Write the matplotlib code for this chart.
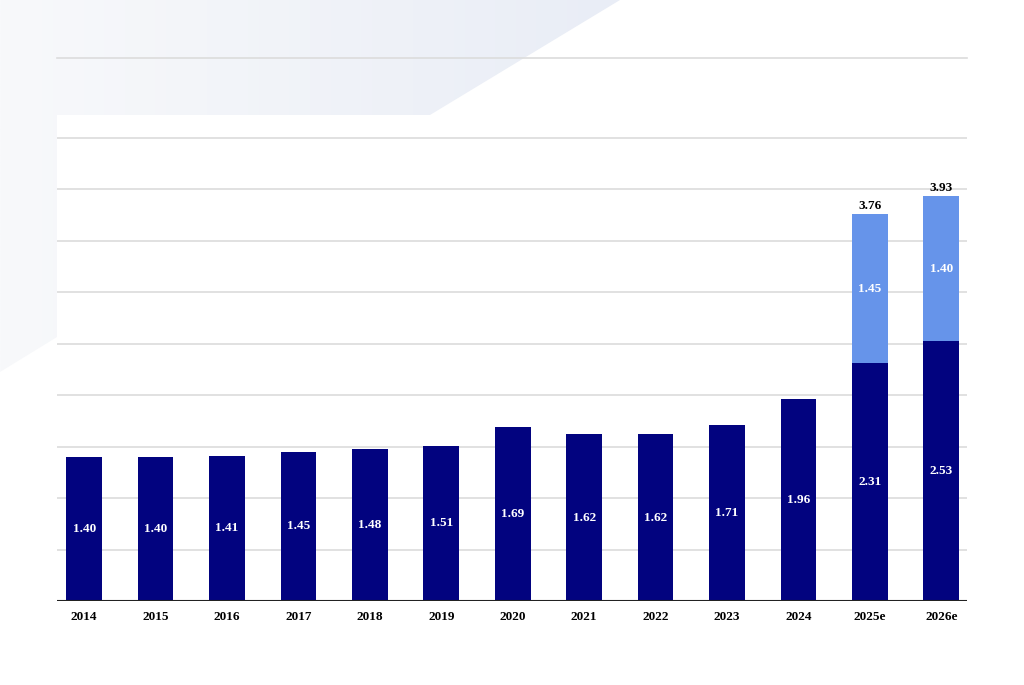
import numpy as np
import matplotlib.pyplot as plt
from matplotlib.patches import Polygon
from matplotlib.colors import LinearSegmentedColormap

# --- DATA ---
years = ["2014", "2015", "2016", "2017", "2018", "2019", "2020",
         "2021", "2022", "2023", "2024", "2025e", "2026e"]
base_values = [1.40, 1.40, 1.41, 1.45, 1.48, 1.51, 1.69,
               1.62, 1.62, 1.71, 1.96, 2.31, 2.53]
extra_values = [0, 0, 0, 0, 0, 0, 0, 0, 0, 0, 0, 1.45, 1.40]
totals = ["", "", "", "", "", "", "", "", "", "", "", "3.76", "3.93"]

DARK = "#02037f"
LIGHT = "#6694ea"
GRID = "#dcdcdc"
FONT = "Liberation Serif"

W, H = 1024, 685
fig = plt.figure(figsize=(W / 100, H / 100), dpi=100)
fig.patch.set_facecolor("white")

# --- BACKGROUND SHAPE (light gradient in top-left) ---
bg = fig.add_axes([0, 0, 1, 1], zorder=0)
bg.set_xlim(0, W)
bg.set_ylim(H, 0)
bg.axis("off")
grad = np.linspace(0, 1, 256).reshape(1, -1)
cmap = LinearSegmentedColormap.from_list("bg", ["#f8f9fb", "#e9edf6"])
img = bg.imshow(grad, extent=[0, 620, 372, 0], cmap=cmap, aspect="auto")
shape = Polygon([(0, 0), (620, 0), (430, 115), (57, 115), (57, 337), (0, 372)],
                closed=True, transform=bg.transData, facecolor="none", edgecolor="none")
bg.add_patch(shape)
img.set_clip_path(shape)

# --- MAIN CHART ---
left, right = 57 / W, 967 / W
bottom, top = (H - 601) / H, (H - 57.5) / H
ax = fig.add_axes([left, bottom, right - left, top - bottom], zorder=1)
ax.patch.set_alpha(0)

x = np.arange(len(years))
ax.bar(x, base_values, width=0.5, color=DARK, zorder=3)
ax.bar(x, extra_values, width=0.5, bottom=base_values, color=LIGHT, zorder=3)

for i in range(len(years)):
    ax.text(x[i], base_values[i] / 2, f"{base_values[i]:.2f}", ha="center", va="center",
            color="white", fontsize=9.5, fontweight="bold", family=FONT, zorder=4)
    if extra_values[i] > 0:
        ax.text(x[i], base_values[i] + extra_values[i] / 2, f"{extra_values[i]:.2f}",
                ha="center", va="center", color="white", fontsize=9.5,
                fontweight="bold", family=FONT, zorder=4)
    if totals[i]:
        ax.text(x[i], base_values[i] + extra_values[i] + 0.02, totals[i], ha="center",
                va="bottom", color="black", fontsize=9.5, fontweight="bold",
                family=FONT, zorder=4)

ax.set_xlim(-0.38, 12.36)
ax.set_ylim(0, 5.28)
ax.set_yticks(np.arange(0.5, 4.51, 0.5))
ax.yaxis.grid(True, color=GRID, linewidth=1.2, zorder=0)
ax.tick_params(axis="y", left=False, labelleft=False)
ax.set_xticks(x)
ax.set_xticklabels(years, fontsize=9.5, fontweight="bold", family=FONT)
ax.tick_params(axis="x", length=0, pad=7)

for s in ["left", "right", "bottom"]:
    ax.spines[s].set_visible(False)
ax.spines["top"].set_color(GRID)
ax.spines["top"].set_linewidth(1.2)
ax.axhline(0, color="#222222", linewidth=1.5, zorder=5)

fig.savefig("out.png", dpi=100, facecolor="white")
